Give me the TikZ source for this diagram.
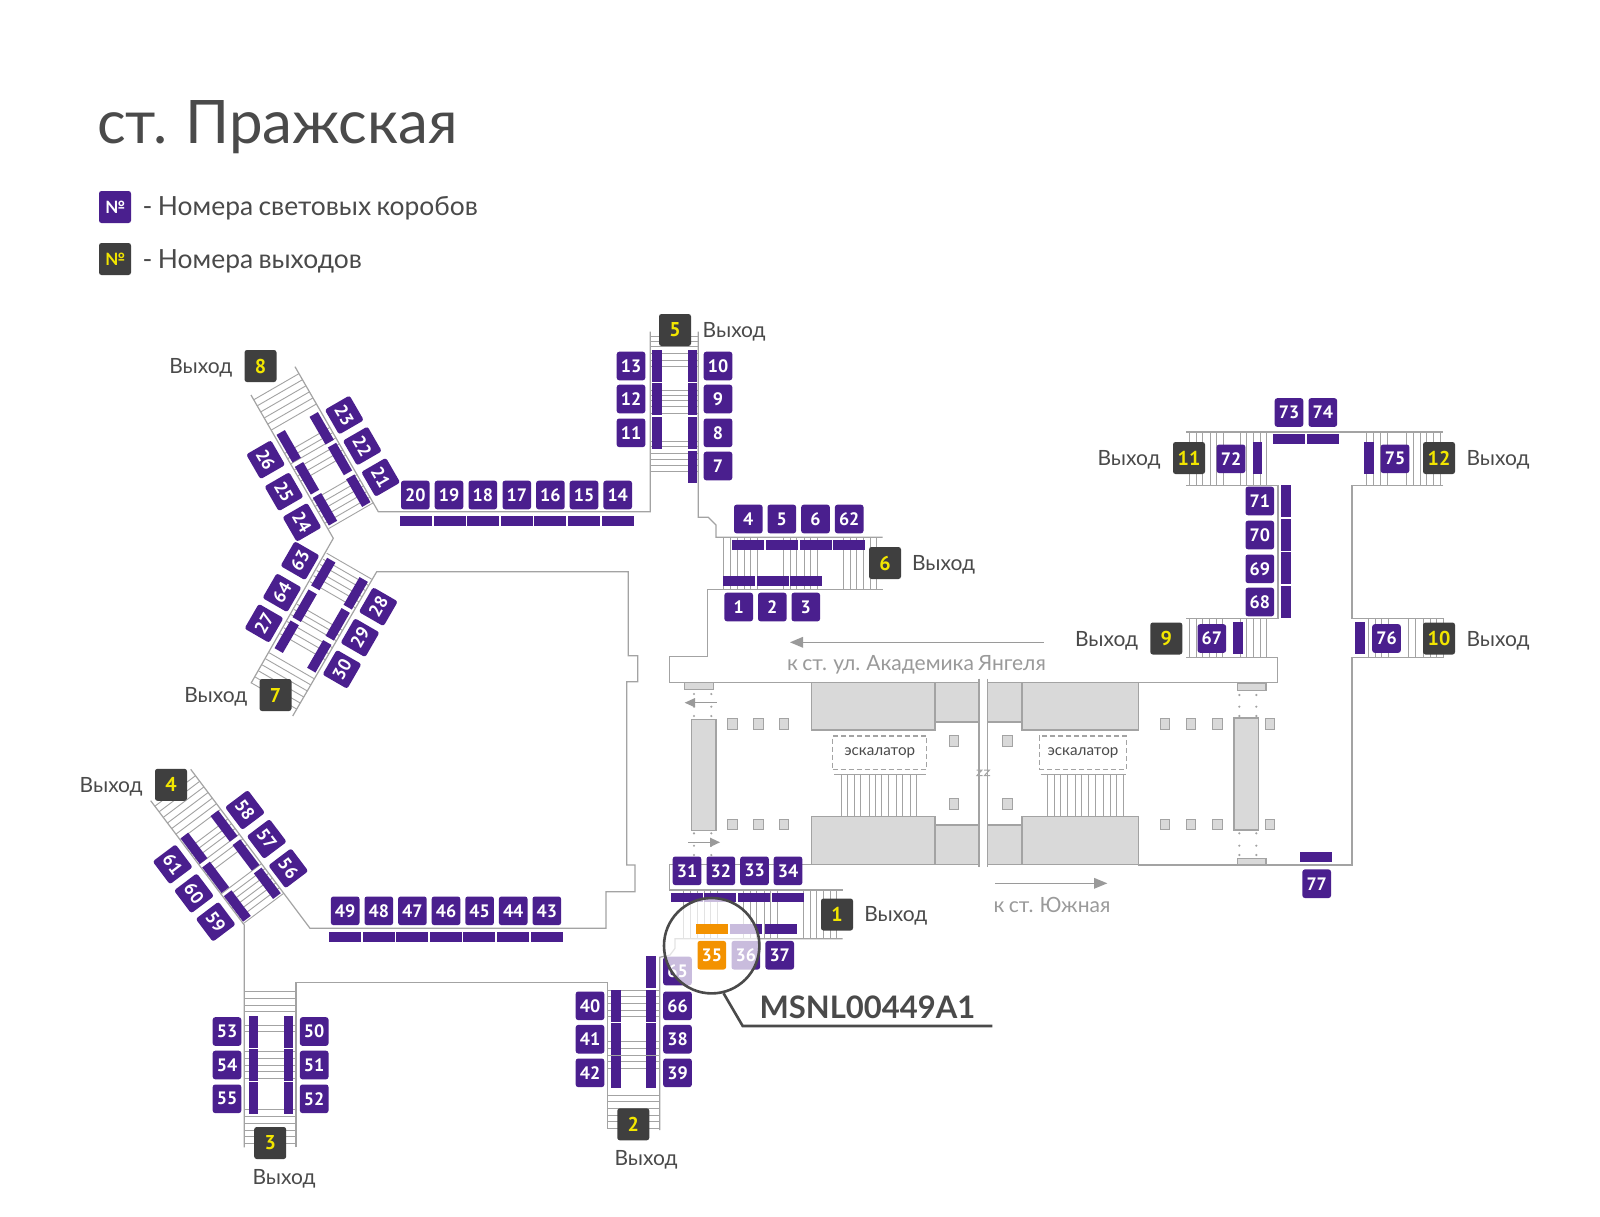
\documentclass[tikz,border=0pt]{standalone}
\usepackage{fontspec}
\setmainfont{Lato}[WordSpace=0.8]
\newfontfamily\numfont{PT Sans}[BoldFont={PT Sans Bold}]
\definecolor{pur}{HTML}{4A1F8E}
\definecolor{exitc}{HTML}{3F3F3F}
\definecolor{yel}{HTML}{F2E600}
\definecolor{wallc}{HTML}{A3A3A3}
\definecolor{blockc}{HTML}{D9D9D9}
\definecolor{txtc}{HTML}{4A4A4A}
\definecolor{grayt}{HTML}{9A9A9A}
\definecolor{orng}{HTML}{F39200}
\tikzset{
  numbox/.style={fill=pur,rounded corners=2.5pt,minimum size=28.6pt,inner sep=0pt,outer sep=0pt,text=white,font=\numfont\bfseries\fontsize{18}{18}\selectfont},
  exitbox/.style={fill=exitc,rounded corners=2.5pt,minimum size=32pt,inner sep=0pt,outer sep=0pt,text=yel,font=\numfont\bfseries\fontsize{20}{20}\selectfont},
  wlabel/.style={text=txtc,inner sep=0pt,font=\fontsize{21}{21}\selectfont},
  glabel/.style={text=grayt,inner sep=0pt,font=\fontsize{21}{21}\selectfont},
  wall/.style={draw=wallc,line width=1.2pt},
  tread/.style={draw=wallc,line width=0.9pt},
  block/.style={fill=blockc,draw=wallc,line width=1.2pt},
  garrow/.style={draw=grayt,line width=1.2pt},
  barc/.style={fill=pur},
  dot/.style={fill=wallc},
  escbox/.style={draw=wallc,dash pattern=on 5pt off 3pt,line width=1.1pt,minimum height=33.3pt,inner sep=0pt,font=\fontsize{15.2}{15.2}\selectfont,text=txtc},
}
\newcommand\bx[4][0]{\node[numbox,rotate=#1] (b#4) at (#2,#3) {#4};}
\newcommand\ex[3]{\node[exitbox] (e#3) at (#1,#2) {#3};}
\newcommand\wyh[3]{\node[wlabel] (w#1) at (#2,#3+2) {Выход};}
\newcommand\barH[2]{\fill[barc] (#1,#2) rectangle ++(32,9.5);}
\newcommand\barV[2]{\fill[barc] (#1,#2) rectangle ++(9.7,32);}
\newcommand\barR[3]{\fill[barc,shift={(#1,#2)},rotate=#3] (-16,-4.8) rectangle (16,4.8);}
\newcommand\sq[2]{\filldraw[block,line width=1pt] (#1-4.8,#2-5.3) rectangle (#1+4.8,#2+5.3);}
\begin{document}
\begin{tikzpicture}[x=1pt,y=-1pt]
\useasboundingbox[fill=white] (0,0) rectangle (1600,1216);

% title and legend
\node[anchor=base west,inner sep=0pt,text=txtc,font=\fontsize{60}{60}\selectfont] (title) at (97,143.3) {ст. Пражская};
\node[fill=pur,rounded corners=2.5pt,minimum size=32pt,inner sep=0pt,text=white,font=\fontsize{17}{17}\selectfont\bfseries] (leg1) at (115,207) {№};
\node[fill=exitc,rounded corners=2.5pt,minimum size=32pt,inner sep=0pt,text=yel,font=\fontsize{17}{17}\selectfont\bfseries] (leg2) at (115,259) {№};
\node[anchor=base west,inner sep=0pt,text=txtc,font=\fontsize{26.4}{26.4}\selectfont] (legt1) at (142.5,215) {- Номера световых коробов};
\node[anchor=base west,inner sep=0pt,text=txtc,font=\fontsize{26.4}{26.4}\selectfont] (legt2) at (142.5,268.5) {- Номера выходов};

% walls
\draw[wall] (295,366.7) -- (378.3,511.7) -- (650.3,511.7) -- (650.3,331.7);
\draw[wall] (698.3,331.7) -- (698.3,517.3) -- (708.3,517.3) -- (716,525) -- (716,537.3) -- (882.7,537.3);
\draw[wall] (882.7,589.3) -- (707.3,589.3) -- (707.3,656.7) -- (669.7,656.7) -- (669.7,682.7) -- (979,682.7);
\draw[wall] (987.3,682.7) -- (1277.3,682.7) -- (1277.3,657.7) -- (1186,657.7);
\draw[wall] (1186,618.3) -- (1278,618.3) -- (1278,485.3) -- (1186,485.3);
\draw[wall] (1186,432) -- (1443.3,432);
\draw[wall] (1443.3,485.3) -- (1352,485.3) -- (1352,618.3) -- (1443.3,618.3);
\draw[wall] (1443.3,657.7) -- (1352,657.7) -- (1352,865) -- (1138,865);
\draw[wall] (251,395) -- (333.3,538.3) -- (251,683.3);
\draw[wall] (292.7,716) -- (376.7,571.7) -- (628.3,571.7) -- (628.3,655.7) -- (637.7,655.7) -- (637.7,681.7) -- (626.7,681.7) -- (626.7,865) -- (635,865) -- (635,891.7) -- (606,891.7) -- (606,928.3) -- (310,928.3) -- (190.7,769.3);
\draw[wall] (150.7,800.7) -- (244.3,925) -- (244.3,1147.3);
\draw[wall] (296,1147.3) -- (296,982.8) -- (607.7,982.8) -- (607.7,1129.3);
\draw[wall] (659.7,1130) -- (659.7,957.3) -- (670,955) -- (675,948.3) -- (675,938.7) -- (842.7,938.7);
\draw[wall] (842.7,890) -- (669.3,890) -- (669.3,864.3) -- (979,864.3);
\draw[wall] (987.3,864.3) -- (1138,864.3);
\draw[wall] (979,678.7) -- (979,867.3);
\draw[wall] (987.3,678.7) -- (987.3,867.3);

% straight stair treads
\foreach \y in {336.7,341.7,346.7,353.3,360,366,390,395,400.7,406.7,413,441.7,446.7,453.3,459,465,471}
  \draw[tread] (650.3,\y) -- (698.3,\y);
\foreach \x in {723.3,730.7,737.3,744,750.7,757.3,783.3,790,796.7,804,810.7,817.3,843.3,850,856.7,863.3,870,876.7}{
  \draw[tread] (\x,537.3) -- (\x,589.3);
  \draw[tread] (\x-40,890) -- (\x-40,938.7);
}
\foreach \x in {1189.3,1196,1202.7,1210,1216.7,1223.3,1240,1246.7,1253.3,1260,1266.7,1366.7,1373.3,1380.7,1387.3,1406.7,1413.3,1420,1426.7,1433.3,1440}
  \draw[tread] (\x,432) -- (\x,485.3);
\foreach \x in {1189.3,1196,1202.7,1209.3,1216,1222.7,1240,1246.7,1253.3,1260,1266.7,1368.3,1375,1381.7,1388.3,1408.3,1415,1423.3,1430,1436.7,1443.3}
  \draw[tread] (\x,618.3) -- (\x,657.7);
\foreach \y in {991,998.3,1005,1011.7,1025,1031.7,1051.7,1058.3,1065,1071.7,1078.3,1109.3,1116,1123.3,1130,1136.7,1143.3}
  \draw[tread] (244.3,\y) -- (296,\y);
\foreach \y in {990,996.7,1003.3,1010,1016.7,1041.7,1048.3,1055,1061.7,1068.3,1095,1101.7,1108.3,1115,1121.7,1128.3}
  \draw[tread] (607.7,\y) -- (659.7,\y);

% diagonal stair treads
\begin{scope}[shift={(295,366.7)},x={(0.5pt,-0.866pt)},y={(-0.866pt,-0.5pt)}]
  \foreach \u in {8,15,22,29,36,43,70,76,82,89,96,102,124.5,131,137.5,144,150.5,157}
    \draw[tread] (\u,0) -- (\u,52);
\end{scope}
\begin{scope}[shift={(292.7,716)},x={(0.5pt,0.866pt)},y={(-0.866pt,0.5pt)}]
  \foreach \u in {8,15,22,29,36,43,65,72,79,87,93,99,125,132,138,145,151,158}
    \draw[tread] (\u,0) -- (\u,52);
\end{scope}
\begin{scope}[shift={(190.7,769.3)},x={(0.6pt,-0.8pt)},y={(-0.8pt,-0.6pt)}]
  \foreach \u in {8,15,22,29,36,43,50,62,68,74,81,87,94,118,124,130,136,142,148,155}
    \draw[tread] (\u,0) -- (\u,50.8);
\end{scope}

% platform blocks
\filldraw[block] (811.7,682.7) rectangle (935,730);
\filldraw[block] (935,682.7) rectangle (979,722);
\filldraw[block] (987.3,682.7) rectangle (1022,722);
\filldraw[block] (1022,682.7) rectangle (1138.7,730);
\filldraw[block] (811.7,816.7) rectangle (935,864.3);
\filldraw[block] (935,825) rectangle (979,864.3);
\filldraw[block] (987.3,825) rectangle (1022,864.3);
\filldraw[block] (1022,816.7) rectangle (1138.7,864.3);
\filldraw[block] (691.7,719.3) rectangle (716,830.7);
\filldraw[block] (1234,718) rectangle (1258.7,830);
\filldraw[block] (684.7,682.7) rectangle (713.3,689.3);
\filldraw[block] (1237.3,683.3) rectangle (1266,690.7);
\filldraw[block] (1237.3,858.7) rectangle (1266,865);
\foreach \x in {694,711.3}{
  \foreach \y in {694,706.7,716,833.3,845.7,855}
    \fill[dot] (\x,\y) circle (1.2);
}
\foreach \x in {1239.3,1256.3}{
  \foreach \y in {695,706.7,716,833.3,845.7,855}
    \fill[dot] (\x,\y) circle (1.2);
}
\foreach \x in {732.3,758.3,784,1165,1191,1217.5,1270}{
  \sq{\x}{724}
  \sq{\x}{824.4}
}
\foreach \y in {741,804}{
  \sq{954}{\y}
  \sq{1007.5}{\y}
}
% break mark
\draw[draw=wallc,line width=1pt] (976.5,770) -- (982,770) -- (977,775.5) -- (982.5,775.5);
\draw[draw=wallc,line width=1pt] (984,770) -- (989.5,770) -- (984.5,775.5) -- (990,775.5);

% escalators
\node[escbox,minimum width=94pt] (esc1) at (879.7,752.6) {эскалатор};
\node[escbox,minimum width=87.4pt] (esc2) at (1083,752.6) {эскалатор};
\draw[tread] (834,774) -- (926,774);
\draw[tread] (1040.7,774) -- (1126,774);
\foreach \x in {841.7,847.3,854,860,869.3,875,881.7,888.3,896.7,902.7,910,916.7,1047.3,1054,1060.7,1067.3,1075,1081.7,1088.3,1095,1103.3,1110.7,1116.7,1123.3}
  \draw[tread] (\x,774) -- (\x,816.7);

% arrows
\fill[grayt] (790,642.3) -- (803,636.8) -- (803,647.8) -- cycle;
\draw[garrow] (800,642.3) -- (1044,642.3);
\fill[grayt] (684.7,702.7) -- (695,698) -- (695,707.4) -- cycle;
\draw[garrow] (692,702.7) -- (716.7,702.7);
\fill[grayt] (720,842.3) -- (710,837.6) -- (710,847) -- cycle;
\draw[garrow] (688,842.3) -- (712,842.3);
\fill[grayt] (1107.3,883.3) -- (1094,877.8) -- (1094,888.8) -- cycle;
\draw[garrow] (995,883.3) -- (1097,883.3);
\node[glabel] (t1) at (916.5,665) {к ст. ул. Академика Янгеля};
\node[glabel] (t2) at (1052,905) {к ст. Южная};

% wall bars
\foreach \y in {350.3,383.3,416.5}{\barV{652}{\y}}
\foreach \y in {350.3,383.3,416.5,450.7}{\barV{687.5}{\y}}
\foreach \x in {732.3,765.9,799.5,833.1}{\barH{\x}{540.3}}
\foreach \x in {723,756.6,790.2}{\barH{\x}{576}}
\foreach \x in {400,433.6,467.2,500.8,534.4,568,601.6}{\barH{\x}{516}}
\foreach \x in {329,362.6,396.2,429.8,463.4,497,530.6}{\barH{\x}{932.3}}
\foreach \y in {1016,1049,1082.3}{\barV{248.7}{\y}\barV{283.7}{\y}}
\foreach \y in {990,1023,1056.3}{\barV{611.3}{\y}}
\foreach \y in {956.3,989.7,1023,1056.3}{\barV{646}{\y}}
\foreach \x in {670.7,704.3,737.9,771.5}{\barH{\x}{892.7}}
\barH{730.3}{924.3}
\barH{764.7}{924.3}
\barH{1273.3}{434}
\barH{1307}{434}
\barV{1252.7}{442.3}
\barV{1364.4}{442.3}
\foreach \y in {485,519,552.3,585.7}{\barV{1281.4}{\y}}
\barV{1233.4}{622.3}
\barV{1355}{622.3}
\barH{1300.3}{852}
\barR{321.7}{428.3}{-60}
\barR{340}{459}{-60}
\barR{358.3}{490.7}{-60}
\barR{288.7}{446.3}{-60}
\barR{307}{478.3}{-60}
\barR{325}{509.3}{-60}
\barR{323.3}{574}{60}
\barR{304.7}{605.7}{60}
\barR{286.7}{636.7}{60}
\barR{355.7}{593.3}{60}
\barR{337.7}{624.3}{60}
\barR{319.3}{656.3}{60}
\barR{224}{826}{-53}
\barR{246}{855}{-53}
\barR{267.3}{883.3}{-53}
\barR{194}{848.3}{-53}
\barR{215.7}{877.3}{-53}
\barR{237.3}{906}{-53}

% number boxes
\bx{738.7}{607}{1}\bx{772.3}{607}{2}\bx{805.8}{607}{3}
\bx{748.3}{519}{4}\bx{781.8}{519}{5}\bx{815.5}{519}{6}\bx{849.2}{519}{62}
\bx{718}{466}{7}\bx{718}{432.8}{8}\bx{718}{399}{9}\bx{718}{366}{10}
\bx{631}{432.8}{11}\bx{631}{399}{12}\bx{631}{366}{13}
\bx{617.7}{495}{14}\bx{584}{495}{15}\bx{550.4}{495}{16}\bx{516.8}{495}{17}\bx{482.8}{495}{18}\bx{449}{495}{19}\bx{415.3}{495}{20}
\bx[-60]{380.7}{477.3}{21}\bx[-60]{362.3}{446}{22}\bx[-60]{344.3}{415}{23}
\bx[-60]{302}{522.3}{24}\bx[-60]{284}{491.7}{25}\bx[-60]{265.7}{459.7}{26}
\bx[60]{264}{623.3}{27}\bx[60]{378.3}{606.7}{28}\bx[60]{360}{637.7}{29}\bx[60]{342}{669.3}{30}
\bx[60]{300}{560.7}{63}\bx[60]{282}{592.7}{64}
\bx{687}{870.8}{31}\bx{720.8}{870.8}{32}\bx{754.5}{870.8}{33}\bx{788}{870.8}{34}
\bx{745.8}{955.2}{36}\bx{779.7}{955.2}{37}
\bx{677.5}{971}{65}\bx{677.5}{1005.8}{66}\bx{677.5}{1039.2}{38}\bx{677.5}{1072.8}{39}
\bx{590}{1005.8}{40}\bx{590}{1039.2}{41}\bx{590}{1072.8}{42}
\bx{546.8}{910.8}{43}\bx{513.2}{910.8}{44}\bx{479.6}{910.8}{45}\bx{446}{910.8}{46}\bx{412.4}{910.8}{47}\bx{378.8}{910.8}{48}\bx{345.2}{910.8}{49}
\bx{314.2}{1031.5}{50}\bx{314.2}{1065}{51}\bx{314.2}{1098.8}{52}
\bx{227}{1031.5}{53}\bx{227}{1065}{54}\bx{227}{1098.8}{55}
\bx[-53]{288.3}{868.3}{56}\bx[-53]{266.7}{839}{57}\bx[-53]{245}{810}{58}
\bx[-53]{215.7}{921.7}{59}\bx[-53]{194}{893.3}{60}\bx[-53]{172.7}{864.3}{61}
\bx{1211.8}{638.5}{67}\bx{1259.8}{602}{68}\bx{1259.8}{568.8}{69}\bx{1259.8}{535}{70}\bx{1259.8}{501}{71}
\bx{1231}{458.8}{72}\bx{1289}{412.5}{73}\bx{1322.8}{412.5}{74}\bx{1395}{458.8}{75}\bx{1386.5}{638.5}{76}\bx{1316.7}{883.7}{77}

% exits
\ex{837}{914.5}{1}\ex{633.3}{1124.3}{2}\ex{270.2}{1143}{3}\ex{171}{784.8}{4}
\ex{675}{330}{5}\ex{885}{563}{6}\ex{275.5}{695}{7}\ex{260.5}{366}{8}
\ex{1166.3}{638.5}{9}\ex{1439}{638.5}{10}\ex{1189}{458}{11}\ex{1439}{458}{12}
\wyh{1}{895.8}{914}\wyh{2}{646}{1158}\wyh{3}{284}{1177}\wyh{4}{111.2}{785}
\wyh{5}{734.2}{330}\wyh{6}{943.5}{563}\wyh{7}{215.8}{695}\wyh{8}{200.8}{366}
\wyh{9}{1106.5}{638.5}\wyh{10}{1498}{638.5}\wyh{11}{1129}{458}\wyh{12}{1498}{458}

% lens
\fill[white,fill opacity=0.7] (711.7,945.7) circle (47.7);
\fill[orng] (696,924.3) rectangle ++(32,9.7);
\node[numbox,fill=orng] (b35) at (711.8,955.2) {35};
\node[circle,draw=txtc,line width=2.6pt,minimum size=95.4pt,inner sep=0pt] (lens) at (711.7,945.7) {};
\coordinate (lk) at (742.7,1026);
\coordinate (lend) at (992.3,1026);
\draw[draw=txtc,line width=2.6pt,line join=miter] (lens.-76) -- (lk) -- (lend);
\node[inner sep=0pt,text=txtc,font=\fontsize{31}{31}\selectfont\bfseries] (code) at (867.5,1007.5) {MSNL00449A1};
\end{tikzpicture}
\end{document}
